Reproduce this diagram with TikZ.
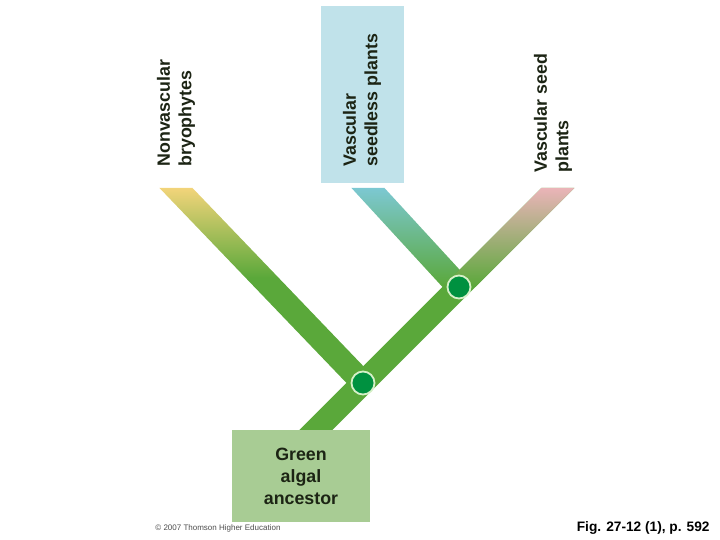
\documentclass[tikz,border=0pt]{standalone}
\usepackage{fontspec}
\setmainfont{Liberation Sans}
\usetikzlibrary{calc}
\definecolor{branchgreen}{RGB}{90,168,58}
\definecolor{nodegreen}{RGB}{0,145,64}
\definecolor{ringgreen}{RGB}{214,240,200}
\definecolor{tipyellow}{RGB}{242,212,122}
\definecolor{tipblue}{RGB}{124,200,210}
\definecolor{tippink}{RGB}{234,180,184}
\definecolor{boxblue}{RGB}{192,226,234}
\definecolor{boxgreen}{RGB}{168,204,148}
\definecolor{textdark}{RGB}{28,36,20}
\pgfdeclareverticalshading{yellowfade}{100bp}{color(0bp)=(branchgreen); color(25bp)=(branchgreen);
  color(52bp)=(branchgreen); color(75bp)=(tipyellow); color(100bp)=(tipyellow)}
\tikzset{
  taxon/.style={rotate=90,anchor=west,align=left,inner sep=0pt,text=textdark,
    font=\bfseries\fontsize{8.9}{10.8}\selectfont},
  ancestor/.style={fill=boxgreen,minimum width=69pt,minimum height=46pt,inner sep=0pt,
    align=center,text=textdark,font=\bfseries\fontsize{8.9}{11}\selectfont},
  fork/.style={circle,fill=nodegreen,draw=ringgreen,line width=0.9pt,
    minimum size=11.5pt,inner sep=0pt},
}
\begin{document}
\begin{tikzpicture}[x=0.5pt,y=-0.5pt]
  \useasboundingbox (0,0) rectangle (720,540);
  \def\hw{16.5}% half of the horizontal width of a branch
  \coordinate (tipL) at (176,188);
  \coordinate (tipC) at (368,188);
  \coordinate (tipR) at (558,188);
  \coordinate (j1) at (363,383);
  \coordinate (j2) at (459,287);
  \coordinate (base) at (316,430);
  % labels at the tips
  \fill[boxblue] (321,6) rectangle (404,183);
  \node[taxon] (nonvasc) at (176,167) {Nonvascular\\bryophytes};
  \node[taxon] (seedless) at (362,167) {Vascular\\seedless plants};
  \node[taxon] (seed) at (553,173) {Vascular seed\\plants};
  % side branches
  \shade[shading=yellowfade]
    ($(tipL)+(-\hw,0)$) -- ($(tipL)+(\hw,0)$) -- ($(j1)+(\hw,0)$) -- ($(j1)+(-\hw,0)$) -- cycle;
  \shade[top color=tipblue,bottom color=branchgreen]
    ($(tipC)+(-\hw,0)$) -- ($(tipC)+(\hw,0)$) -- ($(j2)+(\hw,0)$) -- ($(j2)+(-\hw,0)$) -- cycle;
  % trunk
  \fill[branchgreen]
    ($(tipR)+(-\hw,0)$) -- ($(tipR)+(\hw,0)$) -- ($(base)+(\hw,0)$) -- ($(base)+(-\hw,0)$) -- cycle;
  \shade[top color=tippink,bottom color=branchgreen]
    ($(tipR)+(-\hw,0)$) -- ($(tipR)+(\hw,0)$) -- ($(j2)+(\hw,0)$) -- ($(j2)+(-\hw,0)$) -- cycle;
  \node[fork] (n1) at (j1) {};
  \node[fork] (n2) at (j2) {};
  \node[ancestor] (anc) at (301,476) {Green\\algal\\ancestor};
  \node[anchor=west,inner sep=0pt,text=black!70,font=\fontsize{4}{5}\selectfont] (copy) at (155,528) {© 2007 Thomson Higher Education};
  \node[anchor=east,inner sep=0pt,font=\bfseries\fontsize{6.85}{8}\selectfont] (fig) at (710,528) {Fig. 27-12 (1), p. 592};
\end{tikzpicture}
\end{document}
